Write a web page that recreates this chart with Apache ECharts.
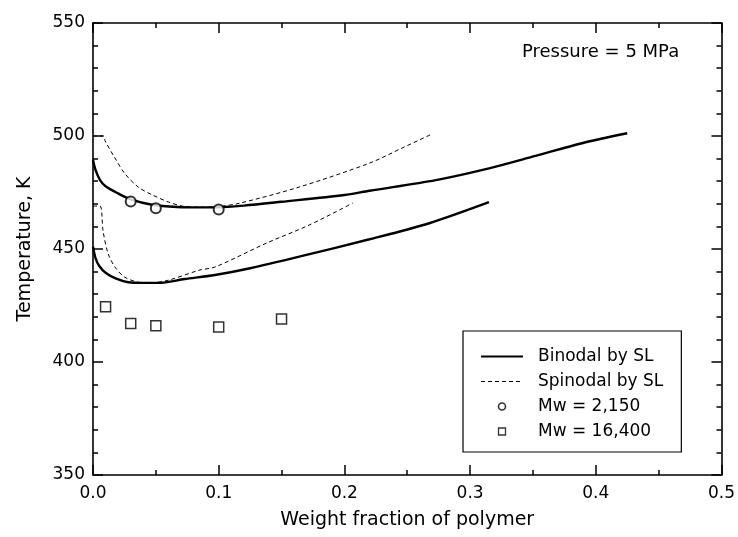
<!DOCTYPE html>
<html><head><meta charset="utf-8">
<script src="https://cdn.jsdelivr.net/npm/echarts@6/dist/echarts.min.js"></script>
<style>html,body{margin:0;padding:0;background:#fff}#c{width:738px;height:537px}</style>
</head><body><div id="c"></div>
<script>
// ---- data ----
const binodalHighX = [0, 0.002, 0.0056, 0.01, 0.02, 0.03, 0.047, 0.067, 0.085, 0.1, 0.12, 0.15, 0.2, 0.22, 0.2728, 0.315, 0.352, 0.389, 0.425];
const binodalHighT = [489.5, 485, 480.5, 477.8, 474.6, 472, 469.6, 468.6, 468.4, 468.5, 469.2, 470.9, 473.9, 475.8, 480.5, 485.7, 491.2, 496.8, 501.2];

const binodalLowX = [0, 0.002, 0.005, 0.01, 0.018, 0.028, 0.04, 0.052, 0.073, 0.097, 0.125, 0.164, 0.22, 0.2675, 0.315];
const binodalLowT = [451, 446, 442.5, 439.5, 437, 435.3, 435, 435, 436.7, 438.5, 441.5, 446.6, 454.3, 461.4, 470.7];

const spinodalHighX = [0, 0.0087, 0.0095, 0.017, 0.025, 0.036, 0.047, 0.06, 0.071, 0.085, 0.1, 0.117, 0.164, 0.22, 0.246, 0.269];
const spinodalHighT = [500, 500, 498, 490.7, 483.6, 477.4, 474, 470.8, 469, 468.5, 468.8, 470.3, 477.4, 488, 494.7, 500.7];

const spinodalLowX = [0, 0.0056, 0.008, 0.012, 0.0175, 0.025, 0.036, 0.045, 0.06, 0.085, 0.097, 0.138, 0.172, 0.2066];
const spinodalLowT = [469, 469, 458, 448, 442, 437.6, 435.3, 435, 436.2, 440.7, 442, 452.6, 460.6, 470.3];

const mw2150X = [0.03, 0.05, 0.1];
const mw2150T = [471, 468, 467.5];

const mw16400X = [0.01, 0.03, 0.05, 0.1, 0.15];
const mw16400T = [424.5, 417, 416, 415.5, 419];

const xTicks = [0, 0.1, 0.2, 0.3, 0.4, 0.5];
const yTicks = [350, 400, 450, 500, 550];

const seriesNames = ['Binodal by SL', 'Spinodal by SL', 'Mw = 2,150', 'Mw = 16,400'];
const annotation = 'Pressure = 5 MPa';
const xTitle = 'Weight fraction of polymer';
const yTitle = 'Temperature, K';

// ---- build ----
const zip = (xs, ys) => xs.map((x, i) => [x, ys[i]]);
const FONT = 'DejaVu Sans';

function xAx(pos, showLabel) {
  return {
    type: 'value', position: pos, min: xTicks[0], max: xTicks[xTicks.length - 1],
    interval: xTicks[1] - xTicks[0],
    axisLine: { show: true, onZero: false, lineStyle: { color: '#000', width: 1.6 } },
    axisTick: { show: true, inside: true, length: 10, lineStyle: { color: '#000', width: 1.5 } },
    minorTick: { show: true, splitNumber: 2, length: 5, lineStyle: { color: '#000', width: 1.5 } },
    splitLine: { show: false }, minorSplitLine: { show: false },
    axisLabel: { show: showLabel, formatter: v => v.toFixed(1), fontSize: 17, color: '#000', fontFamily: FONT, margin: 10 },
    name: showLabel ? xTitle : '', nameLocation: 'middle', nameGap: 36,
    nameTextStyle: { fontSize: 19, color: '#000', fontFamily: FONT }
  };
}
function yAx(pos, showLabel) {
  return {
    type: 'value', position: pos, min: yTicks[0], max: yTicks[yTicks.length - 1],
    interval: yTicks[1] - yTicks[0],
    axisLine: { show: true, onZero: false, lineStyle: { color: '#000', width: 1.6 } },
    axisTick: { show: true, inside: true, length: 10, lineStyle: { color: '#000', width: 1.5 } },
    minorTick: { show: true, splitNumber: 5, length: 5, lineStyle: { color: '#000', width: 1.5 } },
    splitLine: { show: false }, minorSplitLine: { show: false },
    axisLabel: { show: showLabel, fontSize: 17, color: '#000', fontFamily: FONT, margin: 8 },
    name: showLabel ? yTitle : '', nameLocation: 'middle', nameGap: 58, nameRotate: 90,
    nameTextStyle: { fontSize: 19, color: '#000', fontFamily: FONT }
  };
}

const solid = { color: '#000', width: 2.4, type: 'solid' };
const dashed = { color: '#000', width: 1, type: [4, 3] };
function lineSeries(name, xs, ys, ls) {
  return {
    type: 'line', name, data: zip(xs, ys), xAxisIndex: 0, yAxisIndex: 0,
    symbol: 'none', showSymbol: false, smooth: 0.3,
    lineStyle: ls, itemStyle: { color: '#000' }, z: 3, silent: true
  };
}

const option = {
  animation: false,
  backgroundColor: '#fff',
  grid: { left: 93, right: 15, top: 23, bottom: 62, containLabel: false },
  xAxis: [xAx('bottom', true), xAx('top', false)],
  yAxis: [yAx('left', true), yAx('right', false)],
  legend: {
    orient: 'vertical', left: 463, top: 331,
    itemWidth: 42, itemHeight: 7, itemGap: 8,
    padding: [17, 18, 12, 17],
    borderColor: '#000', borderWidth: 1.2, backgroundColor: '#fff',
    selectedMode: false, symbolKeepAspect: true,
    textStyle: { fontSize: 17, color: '#000', fontFamily: FONT, padding: [0, 0, 0, 10] },
    data: [
      { name: seriesNames[0], itemStyle: { opacity: 0 }, lineStyle: { color: '#000', width: 2, type: 'solid' } },
      { name: seriesNames[1], itemStyle: { opacity: 0 }, lineStyle: { color: '#000', width: 1, type: [4, 3] } },
      { name: seriesNames[2], icon: 'circle', itemStyle: { color: '#fff', borderColor: '#000', borderWidth: 1.6 } },
      { name: seriesNames[3], icon: 'path://M0,0H10V10H0Z', itemStyle: { color: '#fff', borderColor: '#000', borderWidth: 1.3 } }
    ]
  },
  graphic: [{
    type: 'text', left: 522, top: 43,
    style: { text: annotation, fontSize: 18, fill: '#000', fontFamily: FONT }
  }],
  series: [
    lineSeries(seriesNames[0], binodalHighX, binodalHighT, solid),
    lineSeries(seriesNames[0], binodalLowX, binodalLowT, solid),
    lineSeries(seriesNames[1], spinodalHighX, spinodalHighT, dashed),
    lineSeries(seriesNames[1], spinodalLowX, spinodalLowT, dashed),
    {
      type: 'scatter', name: seriesNames[2], data: zip(mw2150X, mw2150T),
      symbol: 'circle', symbolSize: 10, z: 4,
      itemStyle: { color: '#fff', borderColor: '#000', borderWidth: 2 }
    },
    {
      type: 'scatter', name: seriesNames[3], data: zip(mw16400X, mw16400T),
      symbol: 'rect', symbolSize: 10, z: 4,
      itemStyle: { color: '#fff', borderColor: '#000', borderWidth: 1.5 }
    }
  ]
};
const chart = echarts.init(document.getElementById('c'), null, { renderer: 'canvas' });
chart.setOption(option);
</script>
</body></html>
